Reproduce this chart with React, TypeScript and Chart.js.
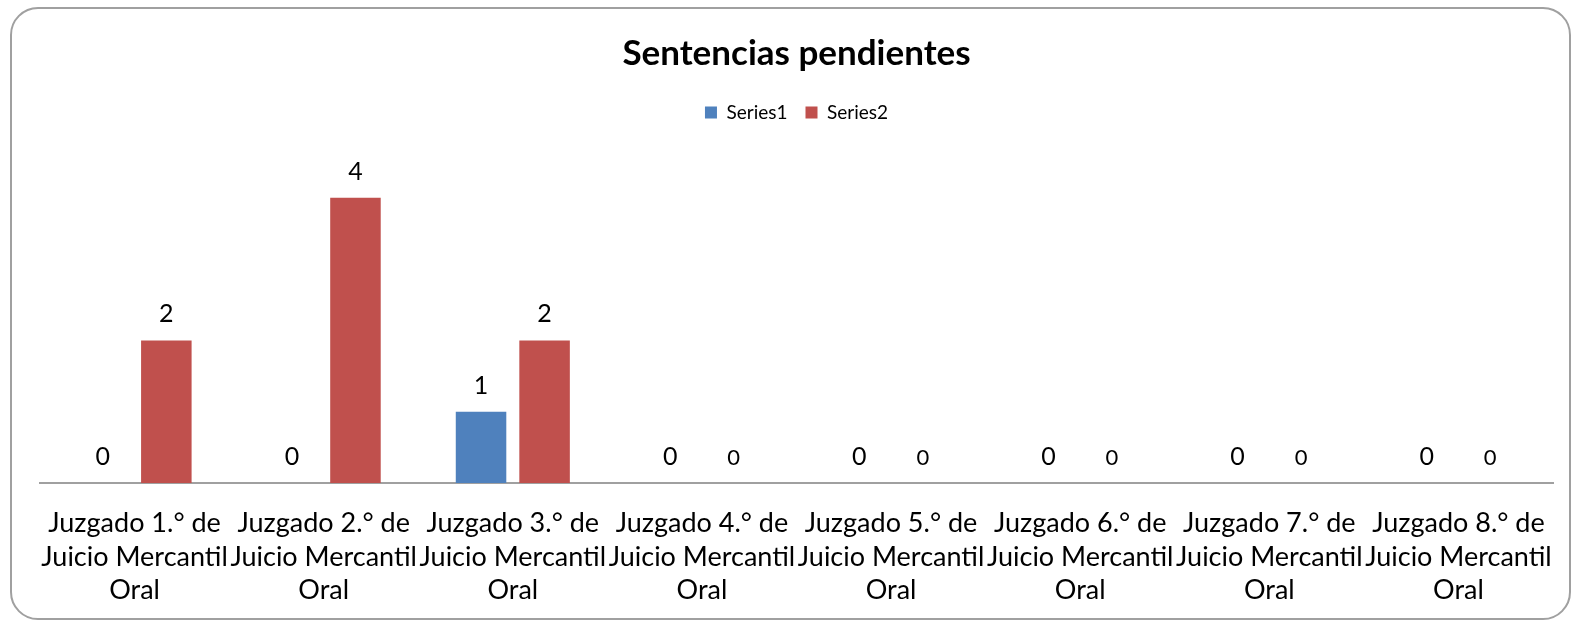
import React, { useEffect, useRef } from "react";
import { Chart, registerables } from "chart.js";

Chart.register(...registerables);

const chartTitle = "Sentencias pendientes";
const seriesNames = ["Series1", "Series2"];
const categories = [
  ["Juzgado 1.° de", "Juicio Mercantil", "Oral"],
  ["Juzgado 2.° de", "Juicio Mercantil", "Oral"],
  ["Juzgado 3.° de", "Juicio Mercantil", "Oral"],
  ["Juzgado 4.° de", "Juicio Mercantil", "Oral"],
  ["Juzgado 5.° de", "Juicio Mercantil", "Oral"],
  ["Juzgado 6.° de", "Juicio Mercantil", "Oral"],
  ["Juzgado 7.° de", "Juicio Mercantil", "Oral"],
  ["Juzgado 8.° de", "Juicio Mercantil", "Oral"],
];
const series1Values = [0, 0, 1, 0, 0, 0, 0, 0];
const series2Values = [2, 4, 2, 0, 0, 0, 0, 0];
const yMin = 0;
const yMax = 5;

const FONT = "Lato";
const COLORS = ["#4F81BD", "#C0504D"];

const valueLabels = {
  id: "valueLabels",
  afterDatasetsDraw(chart: any) {
    const ctx = chart.ctx;
    ctx.save();
    ctx.fillStyle = "#000";
    ctx.textAlign = "center";
    ctx.textBaseline = "alphabetic";
    chart.data.datasets.forEach((ds: any, di: number) => {
      const meta = chart.getDatasetMeta(di);
      meta.data.forEach((el: any, i: number) => {
        const v = ds.data[i];
        const size = di === 1 && v === 0 ? 22 : 25;
        ctx.font = `${size}px ${FONT}`;
        ctx.fillText(String(v), el.x, el.y - 18);
      });
    });
    ctx.restore();
  },
};

export default function App() {
  const ref = useRef<HTMLCanvasElement | null>(null);

  useEffect(() => {
    if (!ref.current) return;
    Chart.defaults.font.family = FONT;
    const chart = new Chart(ref.current, {
      type: "bar",
      data: {
        labels: categories,
        datasets: [
          {
            label: seriesNames[0],
            data: series1Values,
            backgroundColor: COLORS[0],
            categoryPercentage: 0.672,
            barPercentage: 0.795,
          },
          {
            label: seriesNames[1],
            data: series2Values,
            backgroundColor: COLORS[1],
            categoryPercentage: 0.672,
            barPercentage: 0.795,
          },
        ],
      },
      options: {
        responsive: false,
        animation: false,
        layout: { padding: { top: 14, left: 40, right: 19, bottom: 0 } },
        plugins: {
          title: {
            display: true,
            text: chartTitle,
            color: "#000",
            font: { family: FONT, size: 35, weight: "bold" },
            padding: { top: 19, bottom: 10 },
          },
          legend: {
            display: true,
            position: "top",
            maxHeight: 41.5,
            labels: {
              color: "#000",
              font: { family: FONT, size: 19 },
              boxWidth: 12,
              boxHeight: 12,
              padding: 18,
            },
          },
          tooltip: { enabled: false },
        },
        scales: {
          x: {
            grid: { display: false, drawTicks: false },
            border: { display: true, color: "#a0a0a0", width: 2 },
            ticks: {
              color: "#000",
              font: { family: FONT, size: 27, lineHeight: 1.24 },
              padding: 24,
              maxRotation: 0,
              autoSkip: false,
            },
            afterFit(scale: any) {
              scale.height = 140;
              scale.paddingLeft = 0;
              scale.paddingRight = 0;
            },
          },
          y: {
            display: false,
            min: yMin,
            max: yMax,
            grid: { display: false },
          },
        },
      },
      plugins: [valueLabels],
    } as any);
    return () => chart.destroy();
  }, []);

  return (
    <div style={{ position: "absolute", left: 0, top: 0, width: 1572, height: 623, overflow: "hidden", background: "#fff" }}>
      <div
        style={{
          position: "absolute",
          left: 10,
          top: 7,
          width: 1561,
          height: 613,
          boxSizing: "border-box",
          border: "2px solid #a0a0a0",
          borderRadius: 28,
        }}
      />
      <canvas ref={ref} width={1572} height={623} style={{ position: "absolute", left: 0, top: 0 }} />
    </div>
  );
}
